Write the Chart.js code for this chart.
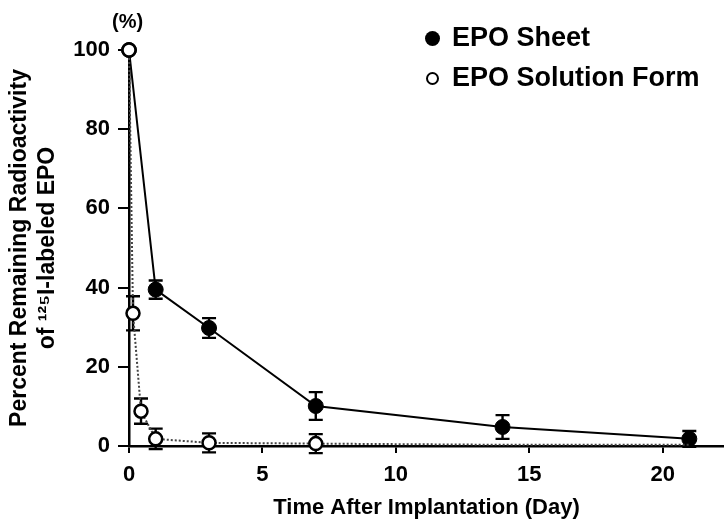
<!DOCTYPE html>
<html>
<head>
<meta charset="utf-8">
<script src="https://cdn.jsdelivr.net/npm/chart.js@4"></script>
<style>
  html,body{margin:0;padding:0;background:#fff;}
  #wrap{position:relative;width:724px;height:521px;}
  .lbl{position:absolute;font-family:"Liberation Sans",Arial,sans-serif;font-weight:bold;color:#000;white-space:nowrap;line-height:1;}
  .dot{position:absolute;border-radius:50%;box-sizing:border-box;}
</style>
</head>
<body>
<div id="wrap">
  <canvas id="c" width="724" height="521"></canvas>
  <div class="lbl" style="left:112px;top:11px;font-size:20px;">(%)</div>
  <div class="dot" style="left:425px;top:31px;width:15px;height:15px;background:#000;"></div>
  <div class="lbl" style="left:452px;top:24px;font-size:27px;">EPO Sheet</div>
  <div class="dot" style="left:426px;top:72px;width:13px;height:13px;border:2.5px solid #000;background:#fff;"></div>
  <div class="lbl" style="left:452px;top:64px;font-size:27px;">EPO Solution Form</div>
</div>
<script>
const seriesNames = ["EPO Sheet", "EPO Solution Form"];
const sheetDays = [0, 1, 3, 7, 14, 21];
const sheetValues = [100, 39.5, 29.8, 10.1, 4.8, 1.8];
const sheetErrors = [0, 2.3, 2.5, 3.5, 3.0, 2.0];
const solDays = [0, 0.15, 0.45, 1, 3, 7, 14, 21];
const solValues = [100, 33.5, 8.8, 1.8, 0.8, 0.6, 0.3, 0.3];
const solErrors = [0, 4.3, 3.2, 2.6, 2.4, 2.4, 0, 0];
const xTicks = [0, 5, 10, 15, 20];
const yTicks = [0, 20, 40, 60, 80, 100];
const xTitle = "Time After Implantation (Day)";
const yTitle = ["Percent Remaining Radioactivity", "of \u00B9\u00B2\u2075I-labeled EPO"];

const FONT = '"Liberation Sans", Arial, sans-serif';

const errorBars = {
  id: 'errorBars',
  beforeDatasetsDraw(chart) {
    const ctx = chart.ctx;
    const xs = chart.scales.x, ys = chart.scales.y;
    const sets = [[sheetDays, sheetValues, sheetErrors], [solDays, solValues, solErrors]];
    ctx.save();
    ctx.strokeStyle = '#000';
    ctx.lineWidth = 2.4;
    sets.forEach(([d, v, e]) => {
      d.forEach((day, i) => {
        if (!e[i]) return;
        const x = xs.getPixelForValue(day);
        const y1 = ys.getPixelForValue(v[i] + e[i]);
        const y2 = ys.getPixelForValue(Math.max(v[i] - e[i], -2));
        ctx.beginPath();
        ctx.moveTo(x, y1); ctx.lineTo(x, y2);
        ctx.moveTo(x - 7, y1); ctx.lineTo(x + 7, y1);
        ctx.moveTo(x - 7, y2); ctx.lineTo(x + 7, y2);
        ctx.stroke();
      });
    });
    ctx.restore();
  }
};

new Chart(document.getElementById('c'), {
  type: 'scatter',
  data: {
    datasets: [
      {
        label: seriesNames[1],
        data: solDays.map((d, i) => ({x: d, y: solValues[i]})),
        showLine: true,
        clip: false,
        borderColor: '#444',
        borderWidth: 2,
        borderDash: [2, 2],
        pointRadius: solDays.map(d => d > 7 ? 0 : 6.5),
        pointBackgroundColor: '#fff',
        pointBorderColor: '#000',
        pointBorderWidth: 2.5,
        order: 0
      },
      {
        label: seriesNames[0],
        data: sheetDays.map((d, i) => ({x: d, y: sheetValues[i]})),
        showLine: true,
        clip: false,
        borderColor: '#000',
        borderWidth: 2,
        pointRadius: 7.5,
        pointBackgroundColor: '#000',
        pointBorderColor: '#000',
        pointBorderWidth: 1,
        order: 1
      }
    ]
  },
  options: {
    responsive: false,
    animation: false,
    layout: {autoPadding: false, padding: {top: 50, right: 0, left: 0, bottom: 0}},
    plugins: {legend: {display: false}, tooltip: {enabled: false}},
    scales: {
      x: {
        type: 'linear', min: 0, max: 22.3,
        afterBuildTicks(s) { s.ticks = xTicks.map(v => ({value: v})); },
        afterFit(s) { s.height = 75; },
        border: {display: true, color: '#000', width: 2.5},
        grid: {drawOnChartArea: false, drawTicks: true, tickLength: 7, color: '#000', lineWidth: 2},
        ticks: {color: '#000', font: {family: FONT, size: 22, weight: 'bold'}, padding: 9, maxRotation: 0},
        title: {display: true, text: xTitle, color: '#000', font: {family: FONT, size: 22, weight: 'bold'}, padding: {top: 2, bottom: 0}}
      },
      y: {
        type: 'linear', min: 0, max: 100,
        afterBuildTicks(s) { s.ticks = yTicks.map(v => ({value: v})); },
        afterFit(s) { s.width = 129; },
        border: {display: true, color: '#000', width: 2.5},
        grid: {drawOnChartArea: false, drawTicks: true, tickLength: 11, color: '#000', lineWidth: 2},
        ticks: {color: '#000', font: {family: FONT, size: 22, weight: 'bold'}, padding: 8},
        title: {display: true, text: yTitle, color: '#000', font: {family: FONT, size: 23, weight: 'bold', lineHeight: 1.2}, padding: {top: 6, bottom: 4}}
      }
    }
  },
  plugins: [errorBars]
});
</script>
</body>
</html>
